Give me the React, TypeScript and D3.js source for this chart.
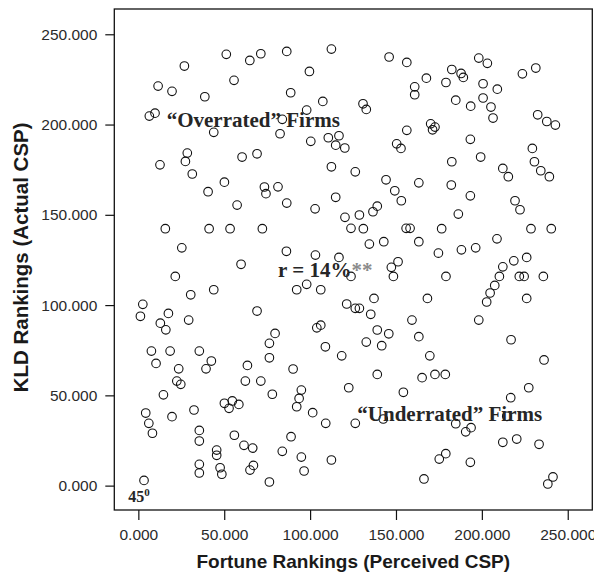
import { useRef, useEffect } from 'react';
import * as d3 from 'd3';

// [Fortune ranking (perceived CSP), KLD ranking (actual CSP)] per firm
const firms: [number, number][] = [
  [26.8, 232.4], [51.2, 238.9], [64.9, 235.5], [71.3, 239.2], [86.4, 240.5], [112.4, 241.8],
  [11.5, 221.3], [19.6, 218.4], [38.7, 215.4], [55.7, 224.5], [99.6, 229.4], [88.7, 217.6],
  [107.4, 212.8], [6.4, 204.7], [9.7, 206.3], [98.0, 208.0], [83.8, 202.9], [43.9, 195.7],
  [82.5, 194.9], [100.4, 190.7], [110.6, 192.7], [116.8, 193.8], [114.9, 188.6], [120.2, 187.0],
  [28.5, 184.2], [27.4, 179.6], [12.6, 177.7], [60.4, 182.0], [69.1, 183.8],
  [146.0, 237.4], [156.3, 234.4], [198.2, 236.8], [203.2, 233.9], [182.5, 230.5], [187.9, 228.3],
  [189.2, 226.1], [167.7, 225.7], [179.1, 223.3], [160.9, 220.9], [160.9, 216.5], [200.7, 222.6],
  [209.0, 219.6], [223.6, 228.1], [231.4, 231.3], [130.8, 211.5], [132.7, 208.4], [184.8, 213.5],
  [193.5, 210.2], [200.7, 214.7], [205.3, 209.7], [206.5, 203.6], [232.5, 205.4], [237.8, 201.7],
  [242.8, 199.7], [170.2, 200.4], [172.7, 198.6], [171.3, 197.1], [156.3, 196.8], [193.3, 191.8],
  [150.4, 189.3], [152.9, 186.8], [229.4, 186.8], [230.6, 179.4], [182.5, 179.4], [199.3, 182.0],
  [31.4, 172.6], [50.1, 168.1], [40.6, 162.8], [73.4, 165.4], [74.3, 161.7], [57.5, 155.4],
  [15.7, 142.3], [41.2, 142.3], [53.4, 142.3], [72.2, 142.3], [25.3, 131.7], [59.8, 122.6],
  [21.5, 115.9], [43.9, 108.5], [30.5, 105.7], [2.6, 100.4], [1.2, 93.8], [17.5, 95.4],
  [12.8, 90.0], [16.0, 86.3], [29.3, 91.7], [69.1, 96.7],
  [112.4, 176.6], [126.3, 173.8], [144.2, 169.4], [163.3, 167.7], [81.3, 165.5], [114.9, 159.7],
  [149.3, 163.3], [153.1, 157.8], [86.4, 156.5], [102.9, 153.3], [139.1, 154.8], [136.6, 151.7],
  [120.3, 148.6], [128.7, 149.9], [123.8, 142.5], [131.0, 142.3], [155.9, 142.5], [158.2, 142.5],
  [134.5, 133.8], [142.9, 135.1], [163.3, 135.1], [86.2, 129.8], [103.1, 127.7], [116.8, 126.4],
  [151.2, 124.0], [147.3, 120.9], [148.5, 115.9], [123.8, 115.9], [92.2, 108.5], [98.0, 111.5],
  [106.2, 108.5], [121.3, 100.6], [126.3, 98.2], [128.7, 98.2], [137.2, 103.7], [135.3, 94.9],
  [168.3, 103.7], [159.3, 91.7], [103.9, 87.4], [106.2, 88.9], [139.1, 86.2], [145.8, 84.1],
  [163.3, 82.5], [79.6, 84.3],
  [212.2, 175.7], [215.4, 171.1], [234.3, 174.4], [239.3, 171.1], [182.2, 166.5], [193.3, 160.5],
  [219.3, 157.8], [222.2, 152.8], [186.3, 150.4], [176.6, 142.3], [228.6, 142.3], [240.4, 142.3],
  [208.8, 136.7], [174.7, 128.8], [188.1, 130.6], [196.4, 131.7], [218.6, 124.5], [226.1, 126.4],
  [212.2, 121.2], [210.2, 115.9], [179.1, 115.9], [221.8, 115.9], [224.6, 115.9], [235.8, 115.9],
  [207.5, 110.9], [204.8, 106.7], [202.8, 101.7], [226.1, 103.7], [198.2, 91.7],
  [7.6, 74.5], [18.5, 74.5], [35.5, 74.5], [10.3, 67.7], [23.5, 64.7], [42.5, 69.0],
  [39.4, 64.7], [22.4, 57.9], [24.7, 56.1], [14.6, 50.3], [63.5, 66.6], [62.3, 57.9],
  [71.3, 57.9], [76.3, 78.8], [76.3, 70.8], [78.0, 50.6], [4.3, 40.2], [6.1, 34.5],
  [8.2, 29.0], [19.6, 38.2], [32.4, 41.9], [50.1, 45.6], [54.7, 46.9], [52.8, 42.8],
  [58.5, 45.0], [35.5, 30.6], [35.5, 24.7], [55.9, 27.9], [61.5, 22.3], [66.6, 20.8],
  [45.6, 19.7], [45.6, 16.8], [35.5, 11.8], [35.5, 7.0], [47.6, 9.9], [48.6, 6.3],
  [65.0, 8.6], [67.0, 11.2], [76.3, 2.0], [3.3, 2.9],
  [108.9, 76.9], [118.4, 71.9], [132.7, 79.5], [141.7, 77.5], [169.7, 71.9], [90.1, 64.6],
  [139.1, 61.6], [165.2, 59.8], [94.9, 52.9], [93.6, 48.3], [92.2, 43.7], [122.5, 54.2],
  [154.3, 51.7], [101.5, 40.4], [109.1, 34.5], [126.3, 34.5], [142.6, 36.9], [88.9, 27.1],
  [83.8, 19.0], [94.9, 15.8], [96.5, 8.1], [112.4, 14.2], [166.3, 3.7],
  [217.0, 80.8], [236.2, 69.6], [172.7, 61.6], [178.7, 61.6], [227.3, 54.2], [216.8, 48.7],
  [214.5, 38.4], [184.8, 34.3], [190.6, 29.8], [193.7, 32.1], [212.2, 24.0], [220.3, 25.8],
  [233.3, 22.9], [175.2, 14.7], [179.0, 17.7], [193.3, 12.9], [241.4, 4.8], [238.4, 0.9],
];

const xTicks = [0, 50, 100, 150, 200, 250];
const yTicks = [0, 50, 100, 150, 200, 250];
const xTitle = 'Fortune Rankings (Perceived CSP)';
const yTitle = 'KLD Rankings (Actual CSP)';

const sans = '"Liberation Sans", Arial, Helvetica, sans-serif';
const serif = '"Liberation Serif", "Times New Roman", Times, serif';

export default function App() {
  const svgRef = useRef<SVGSVGElement>(null);

  useEffect(() => {
    const left = 114.3;
    const right = 592.3;
    const top = 9;
    const bottom = 510;
    const svg = d3.select(svgRef.current);
    svg.selectAll('*').remove();

    // scales
    const xScale = d3.scaleLinear().domain([-14, 264.3]).range([left, right]);
    const yScale = d3.scaleLinear().domain([-13.5, 264]).range([bottom, top]);
    const fmt = d3.format('.3f');

    // axes
    const xAxis = d3.axisBottom(xScale).tickValues(xTicks).tickFormat((d) => fmt(+d)).tickSize(10).tickPadding(9);
    const gx = svg.append('g').attr('transform', `translate(0, ${bottom})`).call(xAxis);
    const yAxis = d3.axisLeft(yScale).tickValues(yTicks).tickFormat((d) => fmt(+d)).tickSize(9).tickPadding(8);
    const gy = svg.append('g').attr('transform', `translate(${left}, 0)`).call(yAxis);
    [gx, gy].forEach((g) => {
      g.select('.domain').remove();
      g.selectAll('line').attr('stroke', '#111').attr('stroke-width', 1.2);
      g.selectAll('text')
        .attr('fill', '#2a2a2a')
        .style('font-family', sans)
        .style('font-size', '15.5px');
    });

    // frame
    svg
      .append('rect')
      .attr('x', left)
      .attr('y', top)
      .attr('width', right - left)
      .attr('height', bottom - top)
      .attr('fill', 'none')
      .attr('stroke', '#111')
      .attr('stroke-width', 1.3);

    // points
    svg
      .append('g')
      .selectAll('circle')
      .data(firms)
      .enter()
      .append('circle')
      .attr('cx', (d) => xScale(d[0]))
      .attr('cy', (d) => yScale(d[1]))
      .attr('r', 4.3)
      .attr('fill', 'none')
      .attr('stroke', '#111')
      .attr('stroke-width', 1.1);

    // axis titles
    svg
      .append('text')
      .attr('x', (left + right) / 2)
      .attr('y', 568)
      .attr('text-anchor', 'middle')
      .style('font-family', sans)
      .style('font-size', '19px')
      .style('font-weight', 'bold')
      .attr('fill', '#1a1a1a')
      .text(xTitle);

    svg
      .append('text')
      .attr('transform', 'translate(28.3, 257.4) rotate(-90)')
      .attr('text-anchor', 'middle')
      .style('font-family', sans)
      .style('font-size', '20.5px')
      .style('font-weight', 'bold')
      .attr('fill', '#1a1a1a')
      .text(yTitle);

    // annotations
    const note = (x: number, y: number, size: number) =>
      svg
        .append('text')
        .attr('x', x)
        .attr('y', y)
        .style('font-family', serif)
        .style('font-size', `${size}px`)
        .style('font-weight', 'bold')
        .attr('fill', '#262626');

    note(166.7, 127.3, 21).text('\u201COverrated\u201D Firms');
    note(357.3, 421, 21).text('\u201CUnderrated\u201D Firms');

    const r = note(278, 277.3, 21);
    r.append('tspan').text('r = 14%');
    r.append('tspan').attr('fill', '#8a8a8a').text('**');

    const deg = note(128.3, 501.7, 16);
    deg.append('tspan').text('45');
    deg.append('tspan').attr('dy', -6).style('font-size', '11px').text('0');
  }, []);

  return (
    <svg
      ref={svgRef}
      width={594}
      height={575}
      style={{ position: 'absolute', left: 0, top: 0, background: '#fff' }}
    ></svg>
  );
}
